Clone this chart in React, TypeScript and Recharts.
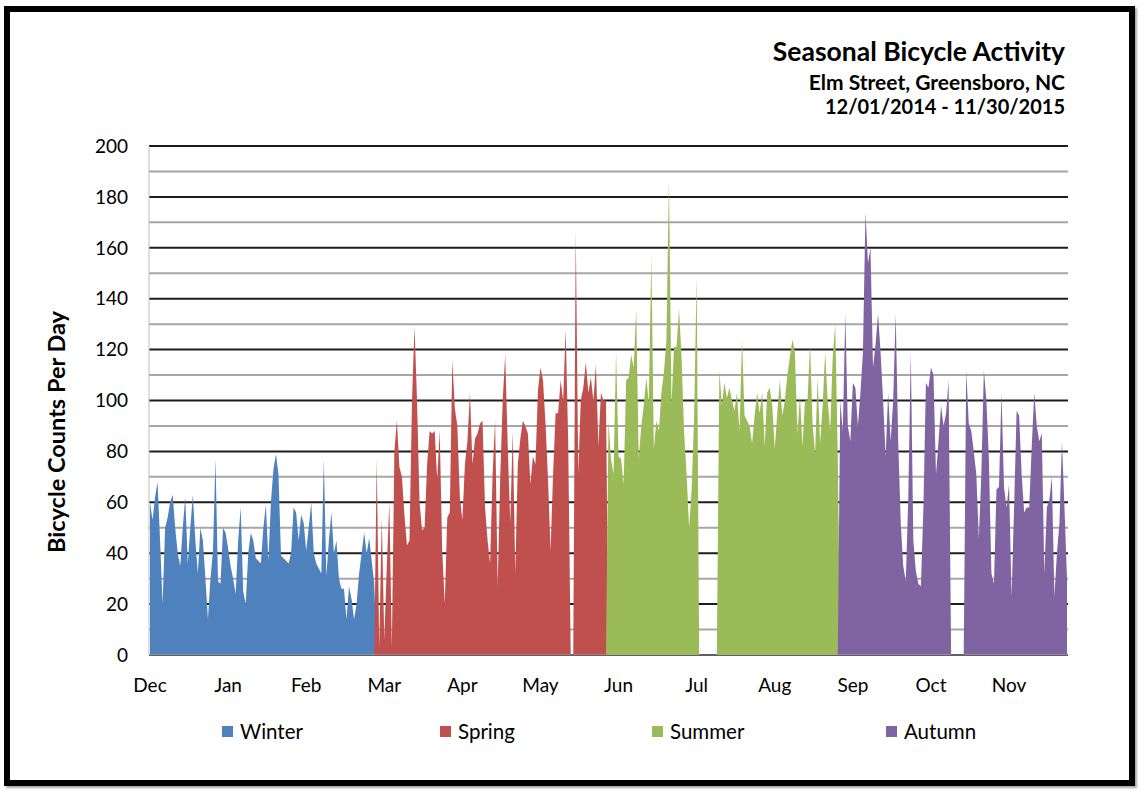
import React from 'react';
import { AreaChart, Area, XAxis, YAxis, CartesianGrid } from 'recharts';

// Daily counts, 12/01/2014 - 11/30/2015, split by season (0 = no data that day)
const winterCounts = [
  60, 53, 62, 68, 45, 20, 50, 54, 60, 63, 50, 40, 35, 50, 62, 36, 50, 63, 45, 32, 50, 45, 30, 14, 30, 41, 77, 29, 28, 50, 48,
  42, 35, 30, 24, 45, 58, 25, 20, 40, 48, 45, 38, 37, 36, 50, 59, 37, 60, 73, 79, 71, 39, 38, 37, 36, 40, 58, 56, 45, 55, 52,
  41, 50, 60, 40, 36, 34, 32, 77, 31, 45, 56, 40, 45, 30, 26, 26, 14, 27, 22, 14, 20, 32, 40, 48, 40, 46, 37, 28,
];
const springCounts = [
  77, 3, 54, 6, 35, 60, 3, 80, 92, 74, 70, 55, 43, 45, 100, 129, 100, 60, 49, 50, 75, 88, 87, 88, 69, 88, 41, 20, 54, 56, 116,
  97, 90, 62, 53, 75, 84, 103, 75, 85, 87, 91, 92, 58, 45, 36, 71, 92, 27, 69, 100, 118, 82, 52, 88, 32, 75, 85, 92, 90, 87,
  67, 78, 75, 104, 113, 108, 91, 69, 41, 71, 95, 95, 108, 100, 128, 84, 0, 0, 167, 71, 100, 105, 115, 103, 109, 100, 114, 82, 103, 100, 100,
];
const summerCounts = [
  92, 77, 71, 119, 78, 77, 67, 108, 109, 118, 113, 136, 77, 90, 98, 109, 99, 157, 81, 92, 88, 103, 111, 124, 187, 98, 121, 121, 136, 117,
  88, 71, 50, 65, 94, 149, 0, 0, 0, 0, 0, 0, 0, 0, 112, 98, 107, 101, 105, 100, 96, 103, 88, 124, 94, 92, 90, 83, 94, 103, 95,
  103, 82, 103, 105, 98, 81, 95, 108, 94, 100, 110, 117, 124, 119, 87, 102, 82, 100, 100, 122, 91, 79, 109, 83, 98, 119, 100, 88, 117, 130, 79,
];
const autumnCounts = [
  100, 88, 134, 90, 84, 107, 105, 90, 103, 119, 174, 154, 160, 113, 122, 134, 119, 100, 78, 103, 84, 100, 134, 84, 52, 35, 29, 62, 119, 45,
  33, 28, 27, 58, 107, 105, 113, 110, 71, 84, 98, 90, 95, 108, 0, 0, 0, 0, 0, 0, 112, 91, 88, 80, 71, 46, 71, 112, 100, 77, 32,
  28, 65, 66, 103, 66, 58, 67, 23, 58, 96, 94, 71, 56, 58, 58, 82, 103, 90, 84, 87, 32, 58, 61, 70, 23, 40, 52, 84, 58, 30,
];

const monthNames = ['Jan', 'Feb', 'Mar', 'Apr', 'May', 'Jun', 'Jul', 'Aug', 'Sep', 'Oct', 'Nov', 'Dec'];
const majorTicks = [0, 20, 40, 60, 80, 100, 120, 140, 160, 180, 200];
const minorTicks = [10, 30, 50, 70, 90, 110, 130, 150, 170, 190];

const seasons = [
  { key: 'winter', name: 'Winter', color: '#4F81BD', counts: winterCounts },
  { key: 'spring', name: 'Spring', color: '#C0504D', counts: springCounts },
  { key: 'summer', name: 'Summer', color: '#9BBB59', counts: summerCounts },
  { key: 'autumn', name: 'Autumn', color: '#8064A2', counts: autumnCounts },
];

const startDay = Date.UTC(2014, 11, 1);
const dayMs = 24 * 60 * 60 * 1000;
const totalDays = seasons.reduce((n, s) => n + s.counts.length, 0);

const chartData = Array.from({ length: totalDays }, (_, i) => {
  const row: Record<string, string | number> = {
    date: new Date(startDay + i * dayMs).toISOString().slice(0, 10),
  };
  let first = 0;
  seasons.forEach((s) => {
    const k = i - first;
    row[s.key] = k >= 0 && k < s.counts.length ? s.counts[k] : 0;
    first += s.counts.length;
  });
  return row;
});

const monthLabel = (iso: string) => monthNames[Number(iso.slice(5, 7)) - 1];

const FONT = 'Lato, "Open Sans", sans-serif';
const legendLeft = [222, 440, 652, 886];

const App: React.FC = () => {
  return (
    <div style={{ position: 'fixed', left: 0, top: 0, width: 1142, height: 791, background: '#fff', fontFamily: FONT, color: '#000' }}>
      <div style={{ position: 'absolute', left: 0, top: 0 }}>
        <AreaChart width={1142} height={791} data={chartData} margin={{ top: 146, right: 74, bottom: 96, left: 0 }}>
          <CartesianGrid vertical={false} horizontalValues={minorTicks} stroke="#a6a6a6" strokeWidth={2} />
          <CartesianGrid vertical={false} horizontalValues={majorTicks} stroke="#1c1c1c" strokeWidth={2} />
          <XAxis
            dataKey="date"
            interval={30}
            tickFormatter={monthLabel}
            tickLine={false}
            tickSize={0}
            tickMargin={24}
            height={40}
            padding={{ left: 1, right: 1 }}
            axisLine={{ stroke: '#a6a6a6', strokeWidth: 1 }}
            tick={{ fill: '#000', fontSize: 19, fontFamily: FONT }}
          />
          <YAxis
            domain={[0, 200]}
            ticks={majorTicks}
            width={149}
            tickLine={false}
            tickSize={0}
            tickMargin={21}
            axisLine={{ stroke: '#bfbfbf', strokeWidth: 1 }}
            tick={{ fill: '#000', fontSize: 19, fontFamily: FONT }}
          />
          {seasons.map((s) => (
            <Area
              key={s.key}
              type="linear"
              dataKey={s.key}
              name={s.name}
              fill={s.color}
              fillOpacity={1}
              stroke="none"
              dot={false}
              activeDot={false}
              isAnimationActive={false}
            />
          ))}
        </AreaChart>
      </div>

      {/* title block, right aligned */}
      <div style={{ position: 'absolute', right: 77, top: 38, fontSize: 26.5, fontWeight: 700, lineHeight: 1, whiteSpace: 'nowrap' }}>
        Seasonal Bicycle Activity
      </div>
      <div style={{ position: 'absolute', right: 77, top: 71.4, fontSize: 21, fontWeight: 700, lineHeight: 1, whiteSpace: 'nowrap' }}>
        Elm Street, Greensboro, NC
      </div>
      <div style={{ position: 'absolute', right: 77, top: 95.6, fontSize: 20, fontWeight: 700, lineHeight: 1, whiteSpace: 'nowrap' }}>
        12/01/2014 - 11/30/2015
      </div>

      {/* y axis title */}
      <div
        style={{
          position: 'absolute',
          left: 56 - 160,
          top: 432 - 14,
          width: 320,
          height: 28,
          lineHeight: '28px',
          textAlign: 'center',
          fontSize: 23.5,
          fontWeight: 700,
          transform: 'rotate(-90deg)',
          whiteSpace: 'nowrap',
        }}
      >
        Bicycle Counts Per Day
      </div>

      {/* legend */}
      {seasons.map((s, i) => (
        <div key={s.key} style={{ position: 'absolute', left: legendLeft[i], top: 719, height: 24, display: 'flex', alignItems: 'center', fontSize: 20.5 }}>
          <span style={{ display: 'inline-block', width: 11, height: 11, background: s.color, marginRight: 7 }} />
          <span>{s.name}</span>
        </div>
      ))}

      {/* outer frame */}
      <div
        style={{
          position: 'absolute',
          left: 4,
          top: 6,
          width: 1131,
          height: 780,
          boxSizing: 'border-box',
          border: '6px solid #000',
          boxShadow: '2px 2px 2px rgba(0,0,0,0.35)',
          pointerEvents: 'none',
        }}
      />
    </div>
  );
};

export default App;
